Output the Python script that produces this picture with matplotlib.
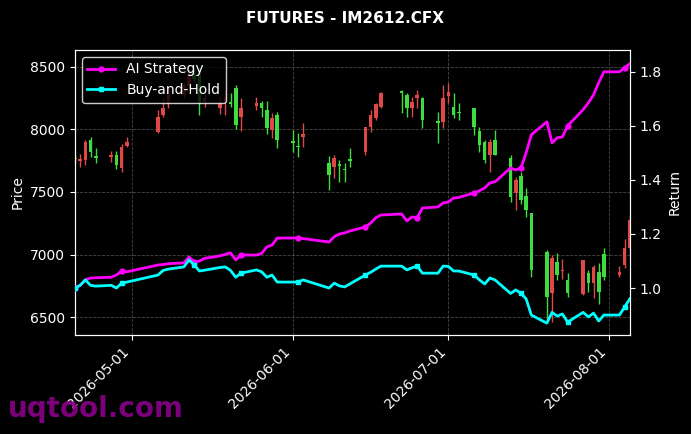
import matplotlib
matplotlib.use("Agg")
import matplotlib.pyplot as plt
import matplotlib.dates as mdates
import numpy as np
import pandas as pd

dates = ["2026-04-20", "2026-04-21", "2026-04-22", "2026-04-23", "2026-04-24",
         "2026-04-27", "2026-04-28", "2026-04-29", "2026-04-30",
         "2026-05-06", "2026-05-07", "2026-05-08",
         "2026-05-11", "2026-05-12", "2026-05-13", "2026-05-14", "2026-05-15",
         "2026-05-18", "2026-05-19", "2026-05-20", "2026-05-21", "2026-05-22",
         "2026-05-25", "2026-05-26", "2026-05-27", "2026-05-28", "2026-05-29",
         "2026-06-01", "2026-06-02", "2026-06-03",
         "2026-06-08", "2026-06-09", "2026-06-10", "2026-06-11", "2026-06-12",
         "2026-06-15", "2026-06-16", "2026-06-17", "2026-06-18",
         "2026-06-22", "2026-06-23", "2026-06-24", "2026-06-25", "2026-06-26",
         "2026-06-29", "2026-06-30", "2026-07-01", "2026-07-02", "2026-07-03",
         "2026-07-06", "2026-07-07", "2026-07-08", "2026-07-09", "2026-07-10",
         "2026-07-13", "2026-07-14", "2026-07-15", "2026-07-16", "2026-07-17",
         "2026-07-20", "2026-07-21", "2026-07-22", "2026-07-23", "2026-07-24",
         "2026-07-27", "2026-07-28", "2026-07-29", "2026-07-30", "2026-07-31",
         "2026-08-03", "2026-08-04", "2026-08-05"]

open_ = [7775, 7750, 7756, 7916, 7790,
         7780, 7796, 7692, 7868,
         7980, 8116, 8200,
         8280, 8350, 8440, 8450, 8220,
         8172, 8230, 8220, 8332, 8100,
         8190, 8212, 8156, 7996, 8116,
         7905, 7870, 7940,
         7732, 7700, 7720, 7680, 7760,
         7820, 8020, 8092, 8180,
         8308, 8276, 8172, 8252, 8252,
         8065, 8060, 8270, 8180, 8135,
         8172, 7988, 7900, 7796, 7916,
         7772, 7492, 7628, 7468, 7332,
         7020, 6692, 6940, 6870, 6796,
         6684, 6852, 6772, 6860, 7004,
         6836, 6916, 7052]
close = [7765, 7765, 7900, 7820, 7775,
         7795, 7716, 7860, 7900,
         8100, 8172, 8300,
         8350, 8440, 8400, 8210, 8250,
         8212, 8260, 8200, 8036, 8172,
         8210, 8172, 8012, 8092, 7916,
         7895, 7860, 7960,
         7636, 7772, 7708, 7672, 7750,
         8020, 8116, 8204, 8292,
         8292, 8172, 8220, 8276, 8076,
         8055, 8252, 8300, 8116, 8128,
         8020, 7876, 7756, 7900, 7796,
         7460, 7596, 7436, 7356, 6876,
         6660, 6972, 6836, 6880, 6692,
         6956, 6772, 6900, 6700, 6820,
         6860, 7052, 7276]
high = [7800, 7800, 7916, 7940, 7850,
        7830, 7830, 7880, 7940,
        8156, 8252, 8330,
        8380, 8480, 8500, 8500, 8300,
        8260, 8316, 8290, 8356, 8250,
        8260, 8230, 8230, 8132, 8140,
        7996, 7972, 8052,
        7790, 7796, 7756, 7732, 7852,
        8020, 8156, 8212, 8300,
        8316, 8292, 8260, 8316, 8260,
        8140, 8356, 8372, 8292, 8212,
        8172, 8020, 7916, 7924, 7996,
        7796, 7620, 7660, 7532, 7332,
        7036, 7000, 7012, 6964, 6852,
        6956, 6876, 6916, 6932, 7052,
        6908, 7124, 7316]
low = [7740, 7700, 7716, 7780, 7730,
       7740, 7680, 7660, 7860,
       7972, 8100, 8170,
       8250, 8330, 8380, 8116, 8180,
       8120, 8116, 8180, 8000, 7990,
       8156, 8100, 7960, 7932, 7850,
       7820, 7780, 7860,
       7516, 7612, 7580, 7580, 7700,
       7796, 7980, 8076, 8172,
       8132, 8100, 8100, 8172, 8012,
       7890, 8012, 8212, 8092, 8076,
       7956, 7820, 7732, 7660, 7796,
       7420, 7356, 7400, 7300, 6820,
       6476, 6460, 6796, 6804, 6660,
       6676, 6700, 6652, 6604, 6796,
       6820, 6892, 7036]

ai_strategy = [1.0, 1.01, 1.03, 1.037, 1.038,
               1.04, 1.048, 1.063, 1.06,
               1.085, 1.087, 1.09,
               1.093, 1.115, 1.096, 1.1, 1.11,
               1.119, 1.125, 1.13, 1.104, 1.122,
               1.122, 1.128, 1.152, 1.159, 1.185,
               1.185, 1.185, 1.183,
               1.17, 1.19, 1.2, 1.204, 1.211,
               1.226, 1.24, 1.26, 1.27,
               1.274, 1.248, 1.263, 1.26, 1.296,
               1.3, 1.315, 1.318, 1.333, 1.335,
               1.352, 1.36, 1.37, 1.389, 1.393,
               1.444, 1.437, 1.444, 1.5, 1.567,
               1.615, 1.537, 1.556, 1.559, 1.6,
               1.66, 1.685, 1.715, 1.76, 1.8,
               1.8, 1.815, 1.83]
buy_hold = [1.0, 1.01, 1.03, 1.01, 1.007,
            1.01, 1.0, 1.018, 1.022,
            1.048, 1.065, 1.07,
            1.078, 1.104, 1.085, 1.063, 1.066,
            1.076, 1.078, 1.065, 1.04, 1.055,
            1.067, 1.06, 1.04, 1.048, 1.022,
            1.022, 1.022, 1.03,
            1.0, 1.018, 1.008, 1.004, 1.015,
            1.048, 1.058, 1.07, 1.081,
            1.081, 1.067, 1.075, 1.081, 1.055,
            1.055, 1.081, 1.08, 1.063, 1.063,
            1.048, 1.03, 1.015, 1.037, 1.03,
            0.98, 0.993, 0.98, 0.96, 0.9,
            0.87, 0.91, 0.896, 0.904, 0.874,
            0.91, 0.893, 0.907, 0.878, 0.9,
            0.9, 0.93, 0.96]

x = mdates.date2num(pd.to_datetime(dates))
o = np.array(open_); c = np.array(close); h = np.array(high); l = np.array(low)

fig = plt.figure(figsize=(6.91, 4.34), dpi=100, facecolor="black")
ax = fig.add_axes([0.1085, 0.228, 0.803, 0.657])
ax.set_facecolor("black")

up = c >= o
col_up = "#e04848"
col_dn = "#3fdc3f"
colors = np.where(up, col_up, col_dn)
ax.vlines(x, l, h, colors=colors, linewidth=1, zorder=2)
ax.bar(x, np.maximum(np.abs(c - o), 8), bottom=np.minimum(o, c), width=0.7,
       color=colors, edgecolor=colors, linewidth=0, zorder=3)

ax.set_ylim(6356, 8636)
ax.set_yticks([6500, 7000, 7500, 8000, 8500])
ax.set_xlim(x[0], x[-1])
ax.xaxis.set_major_locator(mdates.MonthLocator())
ax.xaxis.set_major_formatter(mdates.DateFormatter("%Y-%m-%d"))
ax.grid(True, color="#666666", linestyle="--", linewidth=0.6, alpha=0.7)
ax.set_ylabel("Price", color="white", fontsize=10)
for lab in ax.get_xticklabels():
    lab.set_rotation(45)
    lab.set_ha("right")
ax.tick_params(colors="white", labelsize=10)
for sp in ax.spines.values():
    sp.set_color("white")

ax2 = ax.twinx()
ax2.plot(x, ai_strategy, color="#ff00ff", linewidth=2, marker="o", markersize=3.5,
         markevery=7, label="AI Strategy", zorder=5)
ax2.plot(x, buy_hold, color="#00ffff", linewidth=2, marker="s", markersize=3.5,
         markevery=7, label="Buy-and-Hold", zorder=5)
ax2.set_ylim(0.826, 1.881)
ax2.set_yticks([1.0, 1.2, 1.4, 1.6, 1.8])
ax2.yaxis.set_major_formatter(matplotlib.ticker.FormatStrFormatter("%.1f"))
ax2.set_ylabel("Return", color="white", fontsize=10)
ax2.tick_params(colors="white", labelsize=10)
for sp in ax2.spines.values():
    sp.set_color("white")
leg = ax2.legend(loc="upper left", facecolor="black", edgecolor="white",
                 fontsize=10, framealpha=0.8)
for t in leg.get_texts():
    t.set_color("white")

fig.suptitle("FUTURES - IM2612.CFX", color="white", fontsize=11, fontweight="bold", y=0.975)
fig.text(0.012, 0.058, "uqtool.com", color="#8b008b", fontsize=20, fontweight="bold",
         ha="left", va="center", alpha=0.9)

fig.savefig("out.png", dpi=100, facecolor="black")
